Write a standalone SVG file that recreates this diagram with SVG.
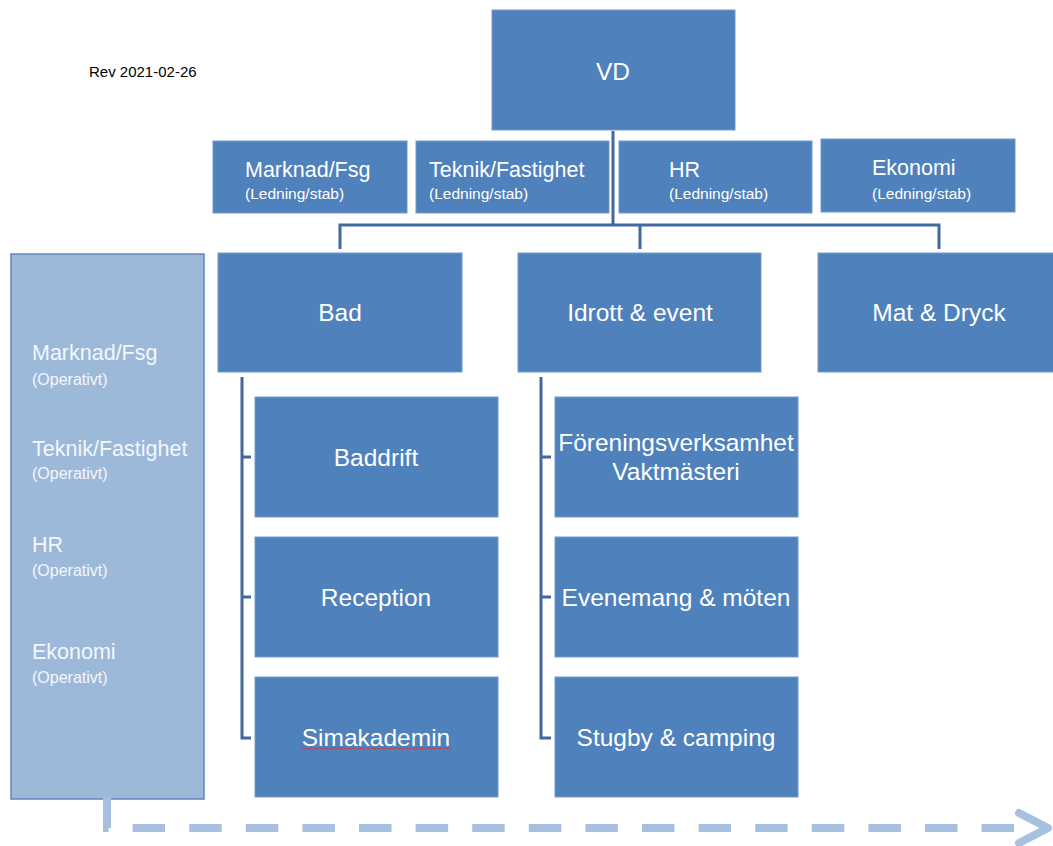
<svg xmlns="http://www.w3.org/2000/svg" width="1053" height="846" viewBox="0 0 1053 846">
  <style>
    .box { fill: #4F81BD; stroke: #7199CB; stroke-width: 1; }
    .panel { fill: #9DB9DA; stroke: #5F87BC; stroke-width: 1.5; }
    .lbl { font-family: "Liberation Sans", Arial, sans-serif; fill: #FFFFFF; }
    .big { font-size: 24.5px; text-anchor: middle; }
    .head { font-size: 21.5px; }
    .sub { font-size: 15.5px; }
    .psub { font-size: 16px; }
    .ptxt { fill: #F4F7FB; }
    .conn { fill: none; stroke: #41699C; stroke-width: 3; }
    .flow { fill: none; stroke: #A7C0DF; stroke-width: 8; }
  </style>
  <defs>
    <!-- wavy spell-check underline -->
    <pattern id="squiggle" x="0" y="0" width="3" height="3" patternUnits="userSpaceOnUse">
      <path d="M0 2.2 L1.5 0.8 L3 2.2" fill="none" stroke="#E0302A" stroke-width="0.9"/>
    </pattern>
  </defs>

  <text x="89" y="77" font-family="Liberation Sans, Arial, sans-serif" font-size="15" fill="#000000">Rev 2021-02-26</text>

  <!-- left side panel: operative support functions -->
  <g id="operativt">
    <rect class="panel" x="11" y="254" width="193" height="545"/>
    <text class="lbl head ptxt" x="32" y="360">Marknad/Fsg</text>
    <text class="lbl psub ptxt" x="32" y="385">(Operativt)</text>
    <text class="lbl head ptxt" x="32" y="456">Teknik/Fastighet</text>
    <text class="lbl psub ptxt" x="32" y="479">(Operativt)</text>
    <text class="lbl head ptxt" x="32" y="552">HR</text>
    <text class="lbl psub ptxt" x="32" y="576">(Operativt)</text>
    <text class="lbl head ptxt" x="32" y="659">Ekonomi</text>
    <text class="lbl psub ptxt" x="32" y="683">(Operativt)</text>
  </g>

  <!-- connectors -->
  <g id="connectors">
    <path class="conn" d="M613 131 V225"/>
    <path class="conn" d="M340 249 V225 H939 V249"/>
    <path class="conn" d="M640 225 V249"/>
    <path class="conn" d="M242 377 V738 H251 M242 457 H251 M242 597 H251"/>
    <path class="conn" d="M541 377 V738 H551 M541 457 H551 M541 597 H551"/>
  </g>

  <!-- dashed flow arrow along the bottom -->
  <g id="flow">
    <path class="flow" d="M107 797 V828 H1016" stroke-dasharray="32.5 24.1"/>
    <path class="flow" d="M1019 813 L1048 828 L1019 843" stroke-linecap="round" stroke-linejoin="round"/>
  </g>

  <g id="vd">
    <rect class="box" x="492" y="10" width="243" height="120"/>
    <text class="lbl big" x="613" y="80">VD</text>
  </g>

  <g id="stab-marknad">
    <rect class="box" x="213" y="141" width="194" height="72"/>
    <text class="lbl head" x="245" y="177">Marknad/Fsg</text>
    <text class="lbl sub" x="245" y="199">(Ledning/stab)</text>
  </g>
  <g id="stab-teknik">
    <rect class="box" x="416" y="141" width="193" height="72"/>
    <text class="lbl head" x="429" y="177">Teknik/Fastighet</text>
    <text class="lbl sub" x="429" y="199">(Ledning/stab)</text>
  </g>
  <g id="stab-hr">
    <rect class="box" x="619" y="141" width="193" height="72"/>
    <text class="lbl head" x="669" y="177">HR</text>
    <text class="lbl sub" x="669" y="199">(Ledning/stab)</text>
  </g>
  <g id="stab-ekonomi">
    <rect class="box" x="821" y="139" width="194" height="73"/>
    <text class="lbl head" x="872" y="175">Ekonomi</text>
    <text class="lbl sub" x="872" y="199">(Ledning/stab)</text>
  </g>

  <g id="bad">
    <rect class="box" x="218" y="253" width="244" height="119"/>
    <text class="lbl big" x="340" y="321">Bad</text>
  </g>
  <g id="idrott">
    <rect class="box" x="518" y="253" width="243" height="119"/>
    <text class="lbl big" x="640" y="321">Idrott &amp; event</text>
  </g>
  <g id="mat">
    <rect class="box" x="818" y="253" width="244" height="119"/>
    <text class="lbl big" x="939" y="321">Mat &amp; Dryck</text>
  </g>

  <g id="baddrift">
    <rect class="box" x="255" y="397" width="243" height="120"/>
    <text class="lbl big" x="376" y="466">Baddrift</text>
  </g>
  <g id="reception">
    <rect class="box" x="255" y="537" width="243" height="120"/>
    <text class="lbl big" x="376" y="606">Reception</text>
  </g>
  <g id="simakademin">
    <rect class="box" x="255" y="677" width="243" height="120"/>
    <text class="lbl big" x="376" y="746">Simakademin</text>
    <rect x="302" y="747" width="150" height="3" fill="url(#squiggle)"/>
  </g>

  <g id="forening">
    <rect class="box" x="555" y="397" width="243" height="120"/>
    <text class="lbl big" x="676" y="451">Föreningsverksamhet</text>
    <text class="lbl big" x="676" y="480">Vaktmästeri</text>
  </g>
  <g id="evenemang">
    <rect class="box" x="555" y="537" width="243" height="120"/>
    <text class="lbl big" x="676" y="606">Evenemang &amp; möten</text>
  </g>
  <g id="stugby">
    <rect class="box" x="555" y="677" width="243" height="120"/>
    <text class="lbl big" x="676" y="746">Stugby &amp; camping</text>
  </g>
</svg>
